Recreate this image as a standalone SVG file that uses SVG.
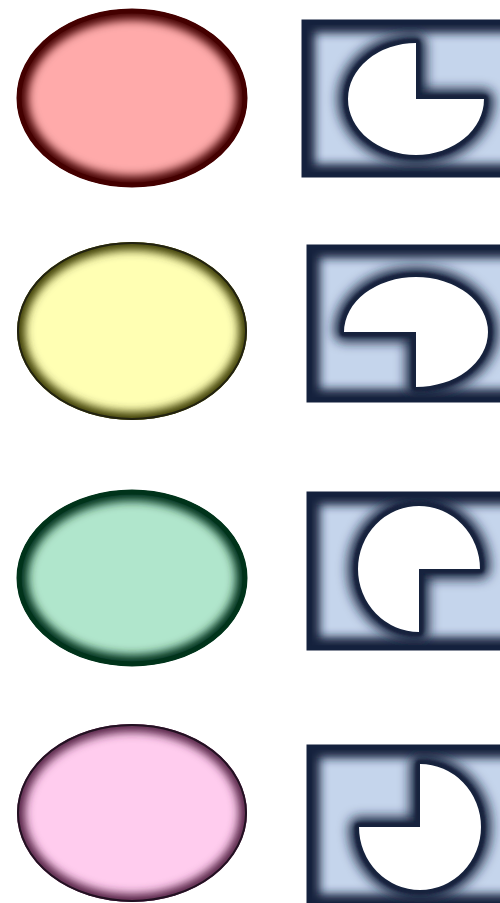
<svg xmlns="http://www.w3.org/2000/svg" width="500" height="903" viewBox="0 0 500 903">
<style>
.rectfill{fill:#c5d5ec}
.rectglow{fill:none;stroke:#14213d;stroke-width:22;filter:url(#blur5)}
.rectedge{fill:none;stroke:#14213d;stroke-width:5}
.piehalo{fill:#14213d;stroke:#14213d;stroke-width:20;stroke-linejoin:round;filter:url(#blur6)}
.pieedge{fill:#14213d;stroke:#14213d;stroke-width:9;stroke-linejoin:round}
.pie{fill:#ffffff}
</style>
<defs>
<filter id="blur4" x="-20%" y="-20%" width="140%" height="140%"><feGaussianBlur stdDeviation="4"/></filter>
<filter id="blur5" x="-20%" y="-20%" width="140%" height="140%"><feGaussianBlur stdDeviation="5"/></filter>
<filter id="blur6" x="-40%" y="-40%" width="180%" height="180%"><feGaussianBlur stdDeviation="6"/></filter>
<filter id="blur1" x="-30%" y="-30%" width="160%" height="160%"><feGaussianBlur stdDeviation="1.2"/></filter>
<clipPath id="ce1"><ellipse cx="132" cy="98" rx="115" ry="89"/></clipPath>
<clipPath id="ce2"><ellipse cx="132" cy="331" rx="115" ry="89"/></clipPath>
<clipPath id="ce3"><ellipse cx="132" cy="578" rx="115" ry="88"/></clipPath>
<clipPath id="ce4"><ellipse cx="132" cy="813" rx="115" ry="89"/></clipPath>
<clipPath id="cr1"><rect x="304" y="22" width="220" height="153"/></clipPath>
<clipPath id="cr2"><rect x="309" y="247" width="220" height="153"/></clipPath>
<clipPath id="cr3"><rect x="309" y="494" width="220" height="154"/></clipPath>
<clipPath id="cr4"><rect x="309" y="747" width="220" height="158"/></clipPath>
</defs>
<rect width="500" height="903" fill="#ffffff"/>

<g id="ellipse-red">
<ellipse cx="132" cy="98" rx="115" ry="89" fill="#ffaaaa"/>
<g clip-path="url(#ce1)"><ellipse cx="132" cy="98" rx="115" ry="89" fill="none" stroke="#440000" stroke-width="22" filter="url(#blur5)"/></g>
<ellipse cx="132" cy="98" rx="113" ry="87" fill="none" stroke="#440000" stroke-width="5"/>
</g>

<g id="ellipse-yellow">
<ellipse cx="132" cy="331" rx="115" ry="89" fill="#ffffb3"/>
<g clip-path="url(#ce2)"><ellipse cx="132" cy="331" rx="115" ry="89" fill="none" stroke="#3a3a00" stroke-width="16" filter="url(#blur5)"/></g>
<ellipse cx="132" cy="331" rx="114" ry="88" fill="none" stroke="#222211" stroke-width="2"/>
</g>

<g id="ellipse-green">
<ellipse cx="132" cy="578" rx="115" ry="88" fill="#b0e6cc"/>
<g clip-path="url(#ce3)"><ellipse cx="132" cy="578" rx="115" ry="88" fill="none" stroke="#00331a" stroke-width="22" filter="url(#blur5)"/></g>
<ellipse cx="132" cy="578" rx="113" ry="86" fill="none" stroke="#00331a" stroke-width="5"/>
</g>

<g id="ellipse-pink">
<ellipse cx="132" cy="813" rx="115" ry="89" fill="#ffccee"/>
<g clip-path="url(#ce4)"><ellipse cx="132" cy="813" rx="115" ry="89" fill="none" stroke="#552244" stroke-width="16" filter="url(#blur5)"/></g>
<ellipse cx="132" cy="813" rx="114" ry="88" fill="none" stroke="#221122" stroke-width="2"/>
</g>

<g id="pie-1">
<g clip-path="url(#cr1)">
<rect class="rectfill" x="304" y="22" width="220" height="153"/>
<rect class="rectglow" x="304" y="22" width="220" height="153"/>
<path class="piehalo" d="M416,99 L484,99 A68,56 0 1 1 416,43 Z"/>
<path class="pieedge" d="M416,99 L484,99 A68,56 0 1 1 416,43 Z" filter="url(#blur1)"/>
</g>
<rect class="rectedge" x="304" y="22" width="220" height="153"/>
<path class="pie" d="M416,99 L484,99 A68,56 0 1 1 416,43 Z"/>
</g>

<g id="pie-2">
<g clip-path="url(#cr2)">
<rect class="rectfill" x="309" y="247" width="220" height="153"/>
<rect class="rectglow" x="309" y="247" width="220" height="153"/>
<path class="piehalo" d="M416,332 L344,332 A72,55 0 1 1 416,387 Z"/>
<path class="pieedge" d="M416,332 L344,332 A72,55 0 1 1 416,387 Z" filter="url(#blur1)"/>
</g>
<rect class="rectedge" x="309" y="247" width="220" height="153"/>
<path class="pie" d="M416,332 L344,332 A72,55 0 1 1 416,387 Z"/>
</g>

<g id="pie-3">
<g clip-path="url(#cr3)">
<rect class="rectfill" x="309" y="494" width="220" height="154"/>
<rect class="rectglow" x="309" y="494" width="220" height="154"/>
<path class="piehalo" d="M419,569 L419,632 A61,63 0 1 1 480,569 Z"/>
<path class="pieedge" d="M419,569 L419,632 A61,63 0 1 1 480,569 Z" filter="url(#blur1)"/>
</g>
<rect class="rectedge" x="309" y="494" width="220" height="154"/>
<path class="pie" d="M419,569 L419,632 A61,63 0 1 1 480,569 Z"/>
</g>

<g id="pie-4">
<g clip-path="url(#cr4)">
<rect class="rectfill" x="309" y="747" width="220" height="158"/>
<rect class="rectglow" x="309" y="747" width="220" height="158"/>
<path class="piehalo" d="M420,827 L420,764 A61,63 0 1 1 359,827 Z"/>
<path class="pieedge" d="M420,827 L420,764 A61,63 0 1 1 359,827 Z" filter="url(#blur1)"/>
</g>
<rect class="rectedge" x="309" y="747" width="220" height="158"/>
<path class="pie" d="M420,827 L420,764 A61,63 0 1 1 359,827 Z"/>
</g>

<g id="connectors"></g>
</svg>
